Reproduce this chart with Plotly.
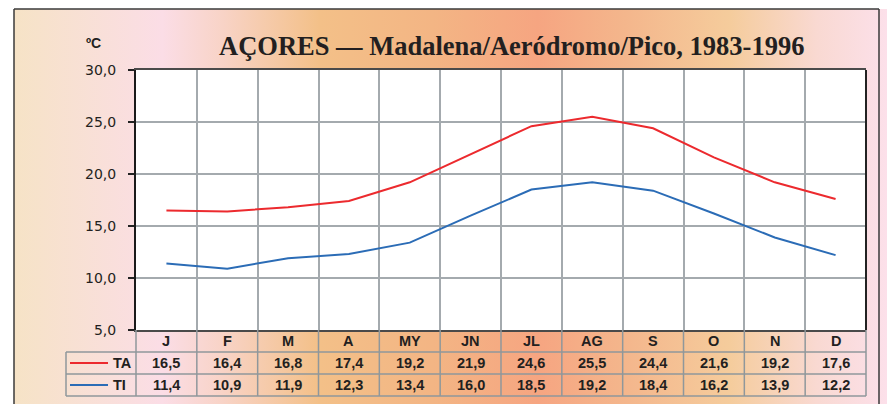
import base64
import plotly.graph_objects as go

months = ["J", "F", "M", "A", "MY", "JN", "JL", "AG", "S", "O", "N", "D"]
ta = [16.5, 16.4, 16.8, 17.4, 19.2, 21.9, 24.6, 25.5, 24.4, 21.6, 19.2, 17.6]
ti = [11.4, 10.9, 11.9, 12.3, 13.4, 16.0, 18.5, 19.2, 18.4, 16.2, 13.9, 12.2]
series_names = ["TA", "TI"]
y_ticks = [5, 10, 15, 20, 25, 30]
y_tick_labels = ["5,0", "10,0", "15,0", "20,0", "25,0", "30,0"]
title_text = "AÇORES — Madalena/Aeródromo/Pico, 1983-1996"
unit_text = "ºC"

W, H = 887, 404
L, R, T, B = 136, 866, 70, 330  # plot area in pixels
PW, PH = R - L, B - T

def px(x):
    return (x - L) / PW

def py(y):
    return (B - y) / PH

def fmt(v):
    return f"{v:.1f}".replace(".", ",")

RED = "#ec2a2e"
BLUE = "#2b6cb6"
GRID = "#a4aaae"
TBL = "#8f979b"
TXT = "#231f20"

# background gradient as inline SVG
stops = [
    (0.00, "#f6e3c6"), (0.17, "#fbdde6"), (0.24, "#f8d3c6"), (0.35, "#f3c088"),
    (0.48, "#f3b584"), (0.60, "#f6a581"), (0.70, "#f4b68c"), (0.82, "#f5cc9c"),
    (0.92, "#f9d9d2"), (1.00, "#fce0ea"),
]
stop_xml = "".join(f'<stop offset="{o}" stop-color="{c}"/>' for o, c in stops)
svg = (
    '<svg xmlns="http://www.w3.org/2000/svg" width="100" height="100" '
    'viewBox="0 0 100 100" preserveAspectRatio="none">'
    f'<defs><linearGradient id="g" x1="0" y1="0" x2="1" y2="0">{stop_xml}</linearGradient></defs>'
    '<rect x="0" y="0" width="100" height="100" fill="url(#g)"/></svg>'
)
src = "data:image/svg+xml;base64," + base64.b64encode(svg.encode()).decode()

fig = go.Figure()
x_idx = list(range(len(months)))
fig.add_trace(go.Scatter(x=x_idx, y=ta, mode="lines", name=series_names[0],
                         line=dict(color=RED, width=2), hoverinfo="skip"))
fig.add_trace(go.Scatter(x=x_idx, y=ti, mode="lines", name=series_names[1],
                         line=dict(color=BLUE, width=2), hoverinfo="skip"))

shapes = []
# white plot area over the gradient
shapes.append(dict(type="rect", xref="paper", yref="paper", x0=0, x1=1, y0=0, y1=1,
                   fillcolor="white", line=dict(width=0), layer="below"))
# panel border
for (x0, y0, x1, y1) in [(14, 9, 879, 9), (14, 9, 14, 404), (879, 9, 879, 404)]:
    shapes.append(dict(type="line", xref="paper", yref="paper",
                       x0=px(x0), y0=py(y0), x1=px(x1), y1=py(y1),
                       line=dict(color="#3a3a3a", width=1.5)))

# table geometry (pixels)
row_h = 22
hdr_y0, hdr_y1 = B, B + row_h
r1_y1 = hdr_y1 + row_h
r2_y1 = r1_y1 + row_h
tbl_left = 66
col_w = PW / len(months)

# horizontal table lines
for yy in [hdr_y1, r1_y1, r2_y1]:
    shapes.append(dict(type="line", xref="paper", yref="paper",
                       x0=px(tbl_left), x1=px(R), y0=py(yy), y1=py(yy),
                       line=dict(color=TBL, width=1.5)))
# vertical table lines
for k in range(len(months) + 1):
    xx = L + k * col_w
    shapes.append(dict(type="line", xref="paper", yref="paper",
                       x0=px(xx), x1=px(xx), y0=py(hdr_y0), y1=py(r2_y1),
                       line=dict(color=TBL, width=1.5)))
shapes.append(dict(type="line", xref="paper", yref="paper",
                   x0=px(tbl_left), x1=px(tbl_left), y0=py(hdr_y1), y1=py(r2_y1),
                   line=dict(color=TBL, width=1.5)))
# legend line samples
for yy, col in [((hdr_y1 + r1_y1) / 2, RED), ((r1_y1 + r2_y1) / 2, BLUE)]:
    shapes.append(dict(type="line", xref="paper", yref="paper",
                       x0=px(70), x1=px(108), y0=py(yy), y1=py(yy),
                       line=dict(color=col, width=2)))

annotations = []
tfont = dict(family="Liberation Sans, Arial, sans-serif", size=14.5, color=TXT, weight="bold")
for k, m in enumerate(months):
    xc = px(L + (k + 0.5) * col_w)
    annotations.append(dict(x=xc, y=py((hdr_y0 + hdr_y1) / 2), xref="paper", yref="paper",
                            text=m, showarrow=False, font=tfont, xanchor="center", yanchor="middle"))
    annotations.append(dict(x=xc, y=py((hdr_y1 + r1_y1) / 2), xref="paper", yref="paper",
                            text=fmt(ta[k]), showarrow=False, font=tfont, xanchor="center", yanchor="middle"))
    annotations.append(dict(x=xc, y=py((r1_y1 + r2_y1) / 2), xref="paper", yref="paper",
                            text=fmt(ti[k]), showarrow=False, font=tfont, xanchor="center", yanchor="middle"))
for name, yy in [(series_names[0], (hdr_y1 + r1_y1) / 2), (series_names[1], (r1_y1 + r2_y1) / 2)]:
    annotations.append(dict(x=px(111), y=py(yy), xref="paper", yref="paper", text=name,
                            showarrow=False, font=tfont, xanchor="left", yanchor="middle"))

annotations.append(dict(x=px(511.5), y=py(46), xref="paper", yref="paper", text=title_text,
                        showarrow=False, xanchor="center", yanchor="middle",
                        font=dict(family="Liberation Serif, Times New Roman, serif", size=26.5,
                                  color=TXT, weight="bold")))
annotations.append(dict(x=px(93), y=py(43), xref="paper", yref="paper", text=unit_text,
                        showarrow=False, xanchor="center", yanchor="middle",
                        font=dict(family="Liberation Sans, Arial, sans-serif", size=14,
                                  color=TXT, weight="bold")))

fig.update_layout(
    width=W, height=H,
    margin=dict(l=L, r=W - R, t=T, b=H - B, pad=0),
    paper_bgcolor="white", plot_bgcolor="white",
    showlegend=False,
    xaxis=dict(range=[-0.5, len(months) - 0.5], tickvals=[k + 0.5 for k in range(len(months) - 1)],
               showticklabels=False, ticks="", showgrid=True, gridcolor=GRID, gridwidth=1.5,
               zeroline=False, showline=True, linecolor="#4a4a4a", linewidth=2, mirror=True,
               fixedrange=True),
    yaxis=dict(range=[5, 30], tickvals=y_ticks, ticktext=y_tick_labels,
               ticks="outside", ticklen=6, tickwidth=1.5, tickcolor="#222",
               ticklabelstandoff=9,
               tickfont=dict(family="DejaVu Sans, sans-serif", size=14, color=TXT),
               showgrid=True, gridcolor=GRID, gridwidth=1.5, zeroline=False,
               showline=True, linecolor="#1a1a1a", linewidth=2, mirror=False, fixedrange=True),
    images=[dict(source=src, xref="paper", yref="paper", x=px(14), y=py(9),
                 sizex=px(887) - px(14), sizey=py(9) - py(404),
                 xanchor="left", yanchor="top", sizing="stretch", layer="below")],
    shapes=shapes,
    annotations=annotations,
)
fig.add_shape(type="line", xref="paper", yref="paper", x0=1, x1=1, y0=0, y1=1,
              line=dict(color="#222", width=2))

fig.write_html("out.html", config={"displayModeBar": False},
               post_script="document.body.style.margin='0';document.body.style.overflow='hidden';")
